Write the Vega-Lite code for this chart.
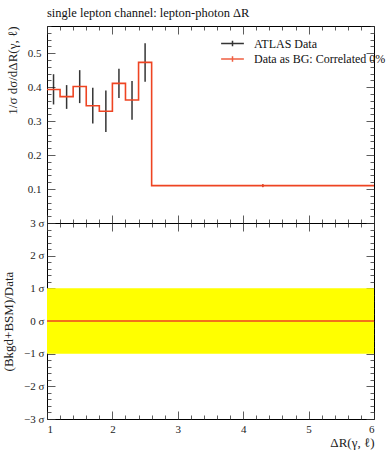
{
  "$schema": "https://vega.github.io/schema/vega-lite/v6.json",
  "background": "white",
  "padding": {"left": 2, "top": 6, "right": 14, "bottom": 4},
  "spacing": 0,
  "bounds": "flush",
  "datasets": {
    "bins": [
      {"xc": 1.1, "x": 1.0, "x2": 1.2, "y": 0.393, "lo": 0.349, "hi": 0.438},
      {"xc": 1.3, "x": 1.2, "x2": 1.4, "y": 0.372, "lo": 0.336, "hi": 0.406},
      {"xc": 1.5, "x": 1.4, "x2": 1.6, "y": 0.402, "lo": 0.353, "hi": 0.450},
      {"xc": 1.7, "x": 1.6, "x2": 1.8, "y": 0.345, "lo": 0.293, "hi": 0.398},
      {"xc": 1.9, "x": 1.8, "x2": 2.0, "y": 0.329, "lo": 0.268, "hi": 0.390},
      {"xc": 2.1, "x": 2.0, "x2": 2.2, "y": 0.411, "lo": 0.368, "hi": 0.454},
      {"xc": 2.3, "x": 2.2, "x2": 2.4, "y": 0.362, "lo": 0.304, "hi": 0.418},
      {"xc": 2.5, "x": 2.4, "x2": 2.6, "y": 0.473, "lo": 0.416, "hi": 0.529},
      {"xc": 4.3, "x": 2.6, "x2": 6.0, "y": 0.110, "lo": 0.107, "hi": 0.113}
    ],
    "step": [
      {"x": 1.0, "y": 0.393},
      {"x": 1.2, "y": 0.372},
      {"x": 1.4, "y": 0.402},
      {"x": 1.6, "y": 0.345},
      {"x": 1.8, "y": 0.329},
      {"x": 2.0, "y": 0.411},
      {"x": 2.2, "y": 0.362},
      {"x": 2.4, "y": 0.473},
      {"x": 2.6, "y": 0.110},
      {"x": 6.0, "y": 0.110}
    ],
    "band": [
      {"x": 1, "x2": 6, "lo": -1, "hi": 1, "zero": 0}
    ]
  },
  "config": {
    "view": {"stroke": "black", "strokeWidth": 1},
    "axis": {
      "grid": false,
      "domain": false,
      "minExtent": 0,
      "labelFont": "Liberation Serif",
      "titleFont": "Liberation Serif",
      "labelFontSize": 11,
      "titleFontSize": 13,
      "titleFontWeight": "normal",
      "labelColor": "#222",
      "titleColor": "#222",
      "tickColor": "#333",
      "tickWidth": 0.8
    },
    "legend": {
      "labelFont": "Liberation Serif",
      "labelFontSize": 12,
      "labelColor": "#111"
    }
  },
  "vconcat": [
    {
      "width": 327,
      "height": 197,
      "title": {"text": "single lepton channel: lepton-photon ΔR", "anchor": "start", "frame": "group", "font": "Liberation Serif", "fontSize": 12.5, "fontWeight": "normal", "color": "#111", "offset": 6},
      "resolve": {"axis": {"x": "independent", "y": "independent"}},
      "layer": [
        {
          "data": {"name": "bins"},
          "mark": {"type": "rule", "strokeWidth": 1.5, "opacity": 0.85},
          "encoding": {
            "x": {"field": "xc", "type": "quantitative", "scale": {"domain": [1, 6], "nice": false},
              "axis": {"orient": "bottom", "labels": false, "title": null, "minExtent": 0, "maxExtent": 0,
                "values": [1,1.2,1.4,1.6,1.8,2,2.2,2.4,2.6,2.8,3,3.2,3.4,3.6,3.8,4,4.2,4.4,4.6,4.8,5,5.2,5.4,5.6,5.8,6],
                "tickSize": {"condition": {"test": "datum.value % 1 === 0", "value": -8}, "value": -4}}},
            "y": {"field": "lo", "type": "quantitative", "scale": {"domain": [0, 0.58], "nice": false, "zero": false},
              "axis": {"orient": "left", "title": "1/σ dσ/dΔR(γ, ℓ)", "titleAnchor": "end", "titlePadding": 8, "labelPadding": 14,
                "values": [0.02,0.04,0.06,0.08,0.1,0.12,0.14,0.16,0.18,0.2,0.22,0.24,0.26,0.28,0.3,0.32,0.34,0.36,0.38,0.4,0.42,0.44,0.46,0.48,0.5,0.52,0.54,0.56,0.58],
                "labelExpr": "(round(datum.value*100) % 10 === 0) ? format(datum.value, '.1f') : ''",
                "tickSize": {"condition": {"test": "round(datum.value*100) % 10 === 0", "value": -8}, "value": -4}}},
            "y2": {"field": "hi"},
            "color": {"datum": "ATLAS Data", "type": "nominal",
              "scale": {"domain": ["ATLAS Data", "Data as BG: Correlated 0%"], "range": ["#111111", "#ee4422"]},
              "legend": {"title": null, "orient": "none", "legendX": 178, "legendY": 10, "symbolType": "M-1.8,0H1.8M0,-0.45V0.45", "symbolSize": 160, "symbolStrokeWidth": 1.5, "rowPadding": 1.5, "labelOffset": 14}}
          }
        },
        {
          "data": {"name": "step"},
          "mark": {"type": "line", "interpolate": "step-after", "strokeWidth": 1.6},
          "encoding": {
            "x": {"field": "x", "type": "quantitative", "axis": null},
            "y": {"field": "y", "type": "quantitative", "axis": null},
            "color": {"datum": "Data as BG: Correlated 0%", "type": "nominal"}
          }
        },
        {
          "data": {"values": [{"xc": 4.3, "lo": 0.105, "hi": 0.115}]},
          "mark": {"type": "rule", "strokeWidth": 1.2},
          "encoding": {
            "x": {"field": "xc", "type": "quantitative", "axis": null},
            "y": {"field": "lo", "type": "quantitative", "axis": null},
            "y2": {"field": "hi"},
            "color": {"datum": "Data as BG: Correlated 0%", "type": "nominal"}
          }
        },
        {
          "data": {"name": "band"},
          "mark": {"type": "rule", "opacity": 0},
          "encoding": {
            "x": {"field": "x", "type": "quantitative",
              "axis": {"orient": "top", "labels": false, "title": null, "minExtent": 0, "maxExtent": 0,
                "values": [1,1.2,1.4,1.6,1.8,2,2.2,2.4,2.6,2.8,3,3.2,3.4,3.6,3.8,4,4.2,4.4,4.6,4.8,5,5.2,5.4,5.6,5.8,6],
                "tickSize": {"condition": {"test": "datum.value % 1 === 0", "value": -8}, "value": -4}}},
            "y": {"field": "zero", "type": "quantitative",
              "axis": {"orient": "right", "labels": false, "title": null, "minExtent": 0, "maxExtent": 0,
                "values": [0.02,0.04,0.06,0.08,0.1,0.12,0.14,0.16,0.18,0.2,0.22,0.24,0.26,0.28,0.3,0.32,0.34,0.36,0.38,0.4,0.42,0.44,0.46,0.48,0.5,0.52,0.54,0.56,0.58],
                "tickSize": {"condition": {"test": "round(datum.value*100) % 10 === 0", "value": -8}, "value": -4}}}
          }
        }
      ]
    },
    {
      "width": 327,
      "height": 196,
      "resolve": {"axis": {"x": "independent", "y": "independent"}},
      "layer": [
        {
          "data": {"name": "band"},
          "mark": {"type": "rect", "color": "#ffff00"},
          "encoding": {
            "x": {"field": "x", "type": "quantitative", "scale": {"domain": [1, 6], "nice": false},
              "axis": {"orient": "bottom", "title": "ΔR(γ, ℓ)", "titleAnchor": "end", "titleAlign": "right", "titlePadding": 2, "labelPadding": 12,
                "values": [1,1.2,1.4,1.6,1.8,2,2.2,2.4,2.6,2.8,3,3.2,3.4,3.6,3.8,4,4.2,4.4,4.6,4.8,5,5.2,5.4,5.6,5.8,6],
                "labelExpr": "datum.value % 1 === 0 ? format(datum.value, 'd') : ''",
                "tickSize": {"condition": {"test": "datum.value % 1 === 0", "value": -8}, "value": -4}}},
            "x2": {"field": "x2"},
            "y": {"field": "lo", "type": "quantitative", "scale": {"domain": [-3, 3], "nice": false},
              "axis": {"orient": "left", "title": "(Bkgd+BSM)/Data", "titlePadding": 8, "labelPadding": 11,
                "values": [-3,-2.8,-2.6,-2.4,-2.2,-2,-1.8,-1.6,-1.4,-1.2,-1,-0.8,-0.6,-0.4,-0.2,0,0.2,0.4,0.6,0.8,1,1.2,1.4,1.6,1.8,2,2.2,2.4,2.6,2.8,3],
                "labelExpr": "(abs(round(datum.value*10)) % 10 === 0) ? (format(datum.value, 'd') + ' σ') : ''",
                "tickSize": {"condition": {"test": "abs(round(datum.value*10)) % 10 === 0", "value": -8}, "value": -4}}},
            "y2": {"field": "hi"}
          }
        },
        {
          "data": {"name": "band"},
          "mark": {"type": "rule", "color": "#ee4422", "strokeWidth": 1.5},
          "encoding": {
            "x": {"field": "x", "type": "quantitative", "axis": null},
            "x2": {"field": "x2"},
            "y": {"field": "zero", "type": "quantitative", "axis": null}
          }
        },
        {
          "data": {"name": "band"},
          "mark": {"type": "rule", "opacity": 0},
          "encoding": {
            "x": {"field": "x", "type": "quantitative",
              "axis": {"orient": "top", "labels": false, "title": null, "minExtent": 0, "maxExtent": 0,
                "values": [1,1.2,1.4,1.6,1.8,2,2.2,2.4,2.6,2.8,3,3.2,3.4,3.6,3.8,4,4.2,4.4,4.6,4.8,5,5.2,5.4,5.6,5.8,6],
                "tickSize": {"condition": {"test": "datum.value % 1 === 0", "value": -8}, "value": -4}}},
            "y": {"field": "zero", "type": "quantitative",
              "axis": {"orient": "right", "labels": false, "title": null, "minExtent": 0, "maxExtent": 0,
                "values": [-3,-2.8,-2.6,-2.4,-2.2,-2,-1.8,-1.6,-1.4,-1.2,-1,-0.8,-0.6,-0.4,-0.2,0,0.2,0.4,0.6,0.8,1,1.2,1.4,1.6,1.8,2,2.2,2.4,2.6,2.8,3],
                "tickSize": {"condition": {"test": "abs(round(datum.value*10)) % 10 === 0", "value": -8}, "value": -4}}}
          }
        }
      ]
    }
  ]
}
